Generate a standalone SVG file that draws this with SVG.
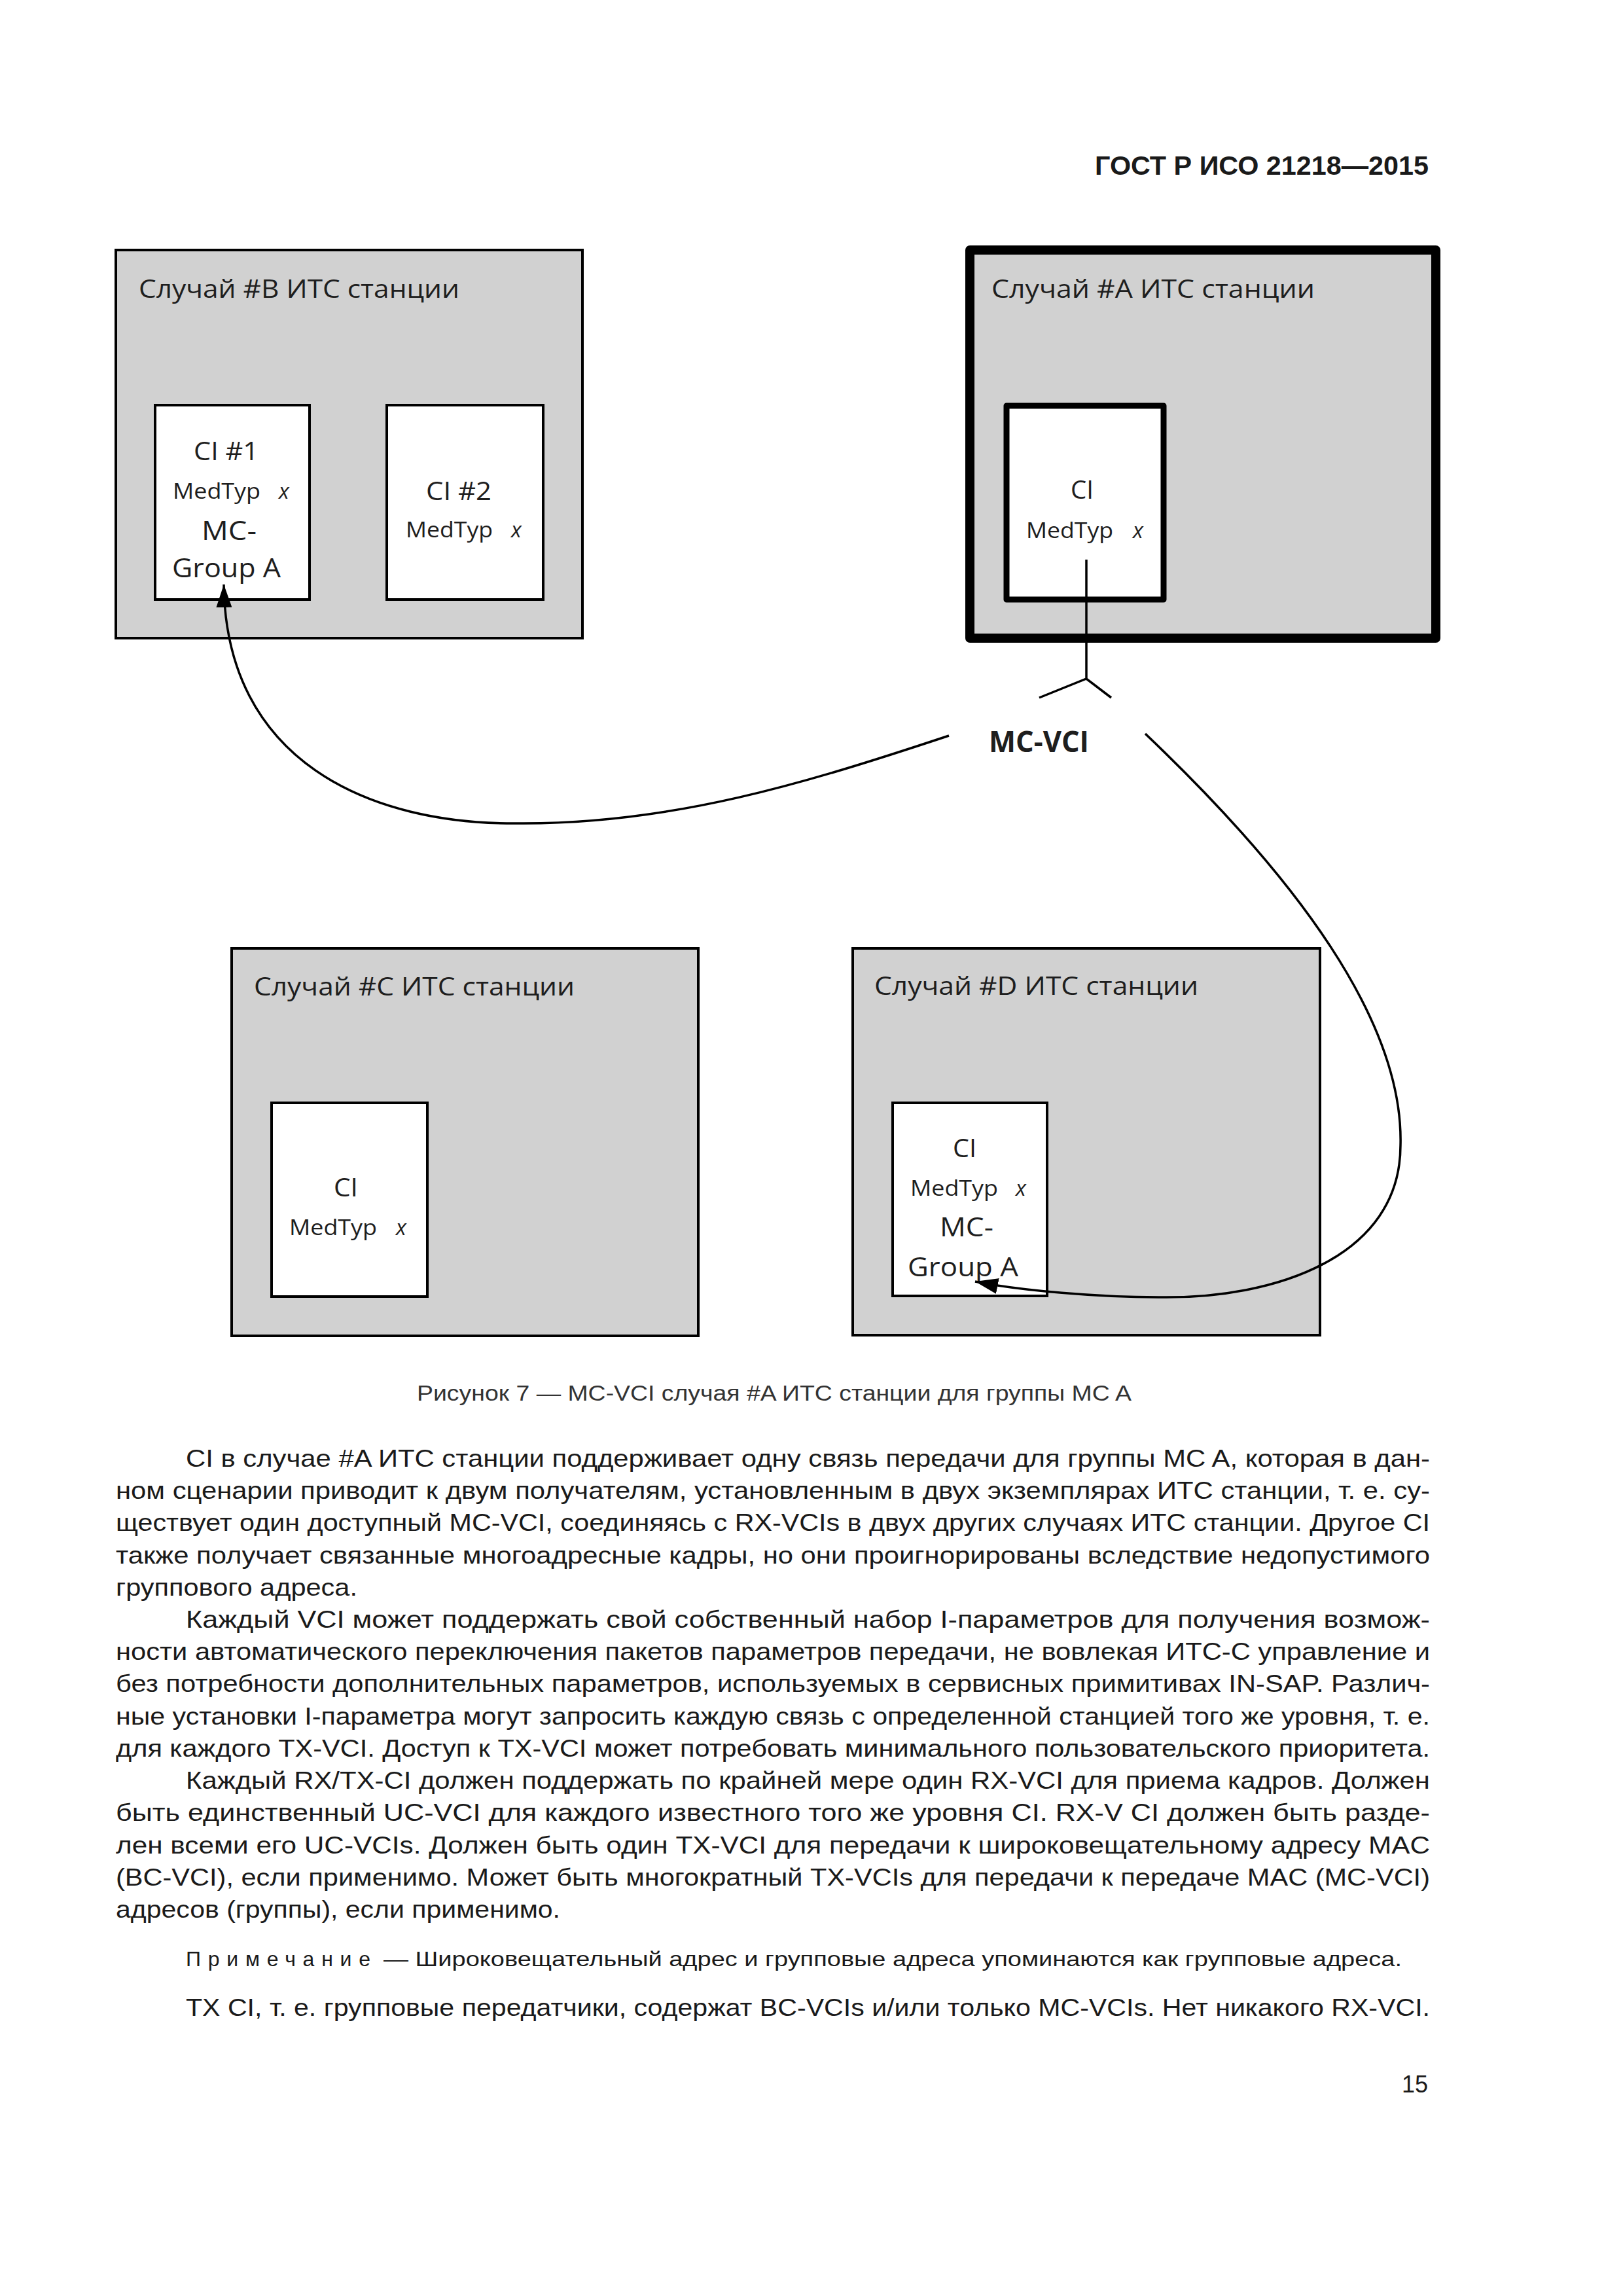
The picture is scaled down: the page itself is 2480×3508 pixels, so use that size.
<svg xmlns="http://www.w3.org/2000/svg" width="2480" height="3508" viewBox="0 0 2480 3508">
<style>
.st{fill:#d1d1d1;stroke:#000;stroke-width:4}
.stA{fill:#d1d1d1;stroke:#000;stroke-width:14;stroke-linejoin:round}
.ci{fill:#fff;stroke:#000;stroke-width:4}
.ciA{fill:#fff;stroke:#000;stroke-width:9;stroke-linejoin:round}
.bx{font-family:"Open Sans","Noto Sans",sans-serif;fill:#1e1e1e}
.ttl{font-size:39px}
.c1{font-size:38px}
.mt{font-size:33px}
.it{font-size:33px;font-style:italic}
.mg{font-size:41px}
.lbl{font-family:"Open Sans","Noto Sans",sans-serif;font-weight:bold;font-size:44px;fill:#1e1e1e}
.con{fill:none;stroke:#000;stroke-width:3.5}
.body{font-family:"Liberation Sans",Arial,sans-serif;font-size:36px;fill:#1a1a1a}
.cap{font-family:"Liberation Sans",Arial,sans-serif;font-size:34px;fill:#333}
.note{font-family:"Liberation Sans",Arial,sans-serif;font-size:32px;fill:#1a1a1a}
.hdr{font-family:"Liberation Sans",Arial,sans-serif;font-size:40px;font-weight:bold;fill:#1a1a1a}
</style>
<defs>
<marker id="arr" markerUnits="userSpaceOnUse" markerWidth="36" markerHeight="24" refX="35" refY="12" orient="auto">
<path d="M0,0 L35,12 L0,24 Z" fill="#000"/>
</marker>
</defs>
<rect width="2480" height="3508" fill="#fff"/>

<text class="hdr" x="1673" y="267" textLength="510" lengthAdjust="spacingAndGlyphs">ГОСТ Р ИСО 21218—2015</text>

<g id="station-B">
<rect class="st" x="177" y="382" width="713" height="593"/>
<text class="bx ttl" x="212" y="455" textLength="490" lengthAdjust="spacingAndGlyphs">Случай #B ИТС станции</text>
</g>
<g id="ci-B1">
<rect class="ci" x="237" y="619" width="236" height="297"/>
<text class="bx c1" x="296" y="703" textLength="99" lengthAdjust="spacingAndGlyphs">CI #1</text>
<text class="bx mt" x="264" y="762" textLength="134" lengthAdjust="spacingAndGlyphs">MedTyp</text>
<text class="bx it" x="426" y="762">x</text>
<text class="bx mg" x="308" y="825" textLength="84" lengthAdjust="spacingAndGlyphs">MC-</text>
<text class="bx mg" x="263" y="882" textLength="166" lengthAdjust="spacingAndGlyphs">Group A</text>
</g>
<g id="ci-B2">
<rect class="ci" x="591" y="619" width="239" height="297"/>
<text class="bx c1" x="651" y="764" textLength="100" lengthAdjust="spacingAndGlyphs">CI #2</text>
<text class="bx mt" x="620" y="821" textLength="133" lengthAdjust="spacingAndGlyphs">MedTyp</text>
<text class="bx it" x="781" y="821">x</text>
</g>

<g id="station-A">
<rect class="stA" x="1482" y="382" width="712" height="593"/>
<text class="bx ttl" x="1515" y="455" textLength="494" lengthAdjust="spacingAndGlyphs">Случай #A ИТС станции</text>
</g>
<g id="ci-A">
<rect class="ciA" x="1538" y="620" width="240" height="296"/>
<text class="bx c1" x="1636" y="762" textLength="35" lengthAdjust="spacingAndGlyphs">CI</text>
<text class="bx mt" x="1568" y="822" textLength="133" lengthAdjust="spacingAndGlyphs">MedTyp</text>
<text class="bx it" x="1731" y="822">x</text>
</g>

<g id="station-C">
<rect class="st" x="354" y="1449" width="713" height="592"/>
<text class="bx ttl" x="388" y="1521" textLength="490" lengthAdjust="spacingAndGlyphs">Случай #C ИТС станции</text>
</g>
<g id="ci-C">
<rect class="ci" x="415" y="1685" width="238" height="296"/>
<text class="bx c1" x="510" y="1828" textLength="37" lengthAdjust="spacingAndGlyphs">CI</text>
<text class="bx mt" x="442" y="1887" textLength="134" lengthAdjust="spacingAndGlyphs">MedTyp</text>
<text class="bx it" x="605" y="1887">x</text>
</g>

<g id="station-D">
<rect class="st" x="1303" y="1449" width="714" height="591"/>
<text class="bx ttl" x="1336" y="1520" textLength="495" lengthAdjust="spacingAndGlyphs">Случай #D ИТС станции</text>
</g>
<g id="ci-D">
<rect class="ci" x="1364" y="1685" width="236" height="295"/>
<text class="bx c1" x="1456" y="1768" textLength="36" lengthAdjust="spacingAndGlyphs">CI</text>
<text class="bx mt" x="1391" y="1827" textLength="134" lengthAdjust="spacingAndGlyphs">MedTyp</text>
<text class="bx it" x="1552" y="1827">x</text>
<text class="bx mg" x="1436" y="1889" textLength="82" lengthAdjust="spacingAndGlyphs">MC-</text>
<text class="bx mg" x="1387" y="1950" textLength="169" lengthAdjust="spacingAndGlyphs">Group A</text>
</g>

<g id="mc-vci">
<text class="lbl" x="1511" y="1149" textLength="153" lengthAdjust="spacingAndGlyphs">MC-VCI</text>
</g>

<g id="connectors">
<path class="con" d="M1660,855 L1660,1037 M1588,1066 L1660,1037 L1698,1066"/>
<path class="con" marker-end="url(#arr)" d="M1450,1124 C1230,1197 1030,1258 800,1258 C560,1262 345,1160 342,893"/>
<path class="con" marker-end="url(#arr)" d="M1750,1121 C1980,1340 2145,1560 2140,1750 C2140,1920 1950,1985 1770,1982 C1680,1982 1560,1972 1490,1958"/>
</g>

<text class="cap" x="637" y="2140" textLength="1092" lengthAdjust="spacingAndGlyphs">Рисунок 7 — MC-VCI случая #A ИТС станции для группы MC A</text>

<g id="body-text">
<text class="body" x="284" y="2241" textLength="1901" lengthAdjust="spacingAndGlyphs">CI в случае #A ИТС станции поддерживает одну связь передачи для группы MC A, которая в дан-</text>
<text class="body" x="177" y="2290" textLength="2008" lengthAdjust="spacingAndGlyphs">ном сценарии приводит к двум получателям, установленным в двух экземплярах ИТС станции, т. е. су-</text>
<text class="body" x="177" y="2339" textLength="2008" lengthAdjust="spacingAndGlyphs">ществует один доступный MC-VCI, соединяясь с RX-VCIs в двух других случаях ИТС станции. Другое CI</text>
<text class="body" x="177" y="2389" textLength="2008" lengthAdjust="spacingAndGlyphs">также получает связанные многоадресные кадры, но они проигнорированы вследствие недопустимого</text>
<text class="body" x="177" y="2438" textLength="369" lengthAdjust="spacingAndGlyphs">группового адреса.</text>
<text class="body" x="284" y="2487" textLength="1901" lengthAdjust="spacingAndGlyphs">Каждый VCI может поддержать свой собственный набор I-параметров для получения возмож-</text>
<text class="body" x="177" y="2536" textLength="2008" lengthAdjust="spacingAndGlyphs">ности автоматического переключения пакетов параметров передачи, не вовлекая ИТС-C управление и</text>
<text class="body" x="177" y="2585" textLength="2008" lengthAdjust="spacingAndGlyphs">без потребности дополнительных параметров, используемых в сервисных примитивах IN-SAP. Различ-</text>
<text class="body" x="177" y="2635" textLength="2008" lengthAdjust="spacingAndGlyphs">ные установки I-параметра могут запросить каждую связь с определенной станцией того же уровня, т. е.</text>
<text class="body" x="177" y="2684" textLength="2008" lengthAdjust="spacingAndGlyphs">для каждого TX-VCI. Доступ к TX-VCI может потребовать минимального пользовательского приоритета.</text>
<text class="body" x="284" y="2733" textLength="1901" lengthAdjust="spacingAndGlyphs">Каждый RX/TX-CI должен поддержать по крайней мере один RX-VCI для приема кадров. Должен</text>
<text class="body" x="177" y="2782" textLength="2008" lengthAdjust="spacingAndGlyphs">быть единственный UC-VCI для каждого известного того же уровня CI. RX-V CI должен быть разде-</text>
<text class="body" x="177" y="2832" textLength="2008" lengthAdjust="spacingAndGlyphs">лен всеми его UC-VCIs. Должен быть один TX-VCI для передачи к широковещательному адресу MAC</text>
<text class="body" x="177" y="2881" textLength="2008" lengthAdjust="spacingAndGlyphs">(BC-VCI), если применимо. Может быть многократный TX-VCIs для передачи к передаче MAC (MC-VCI)</text>
<text class="body" x="177" y="2930" textLength="679" lengthAdjust="spacingAndGlyphs">адресов (группы), если применимо.</text>
<text class="note" x="284" y="3004" textLength="282" lengthAdjust="spacing">Примечание</text>
<text class="note" x="586" y="3004" textLength="1556" lengthAdjust="spacingAndGlyphs">— Широковещательный адрес и групповые адреса упоминаются как групповые адреса.</text>
<text class="body" x="284" y="3080" textLength="1901" lengthAdjust="spacingAndGlyphs">TX CI, т. е. групповые передатчики, содержат BC-VCIs и/или только MC-VCIs. Нет никакого RX-VCI.</text>
<text class="body" x="2182" y="3197" text-anchor="end">15</text>
</g>
</svg>
